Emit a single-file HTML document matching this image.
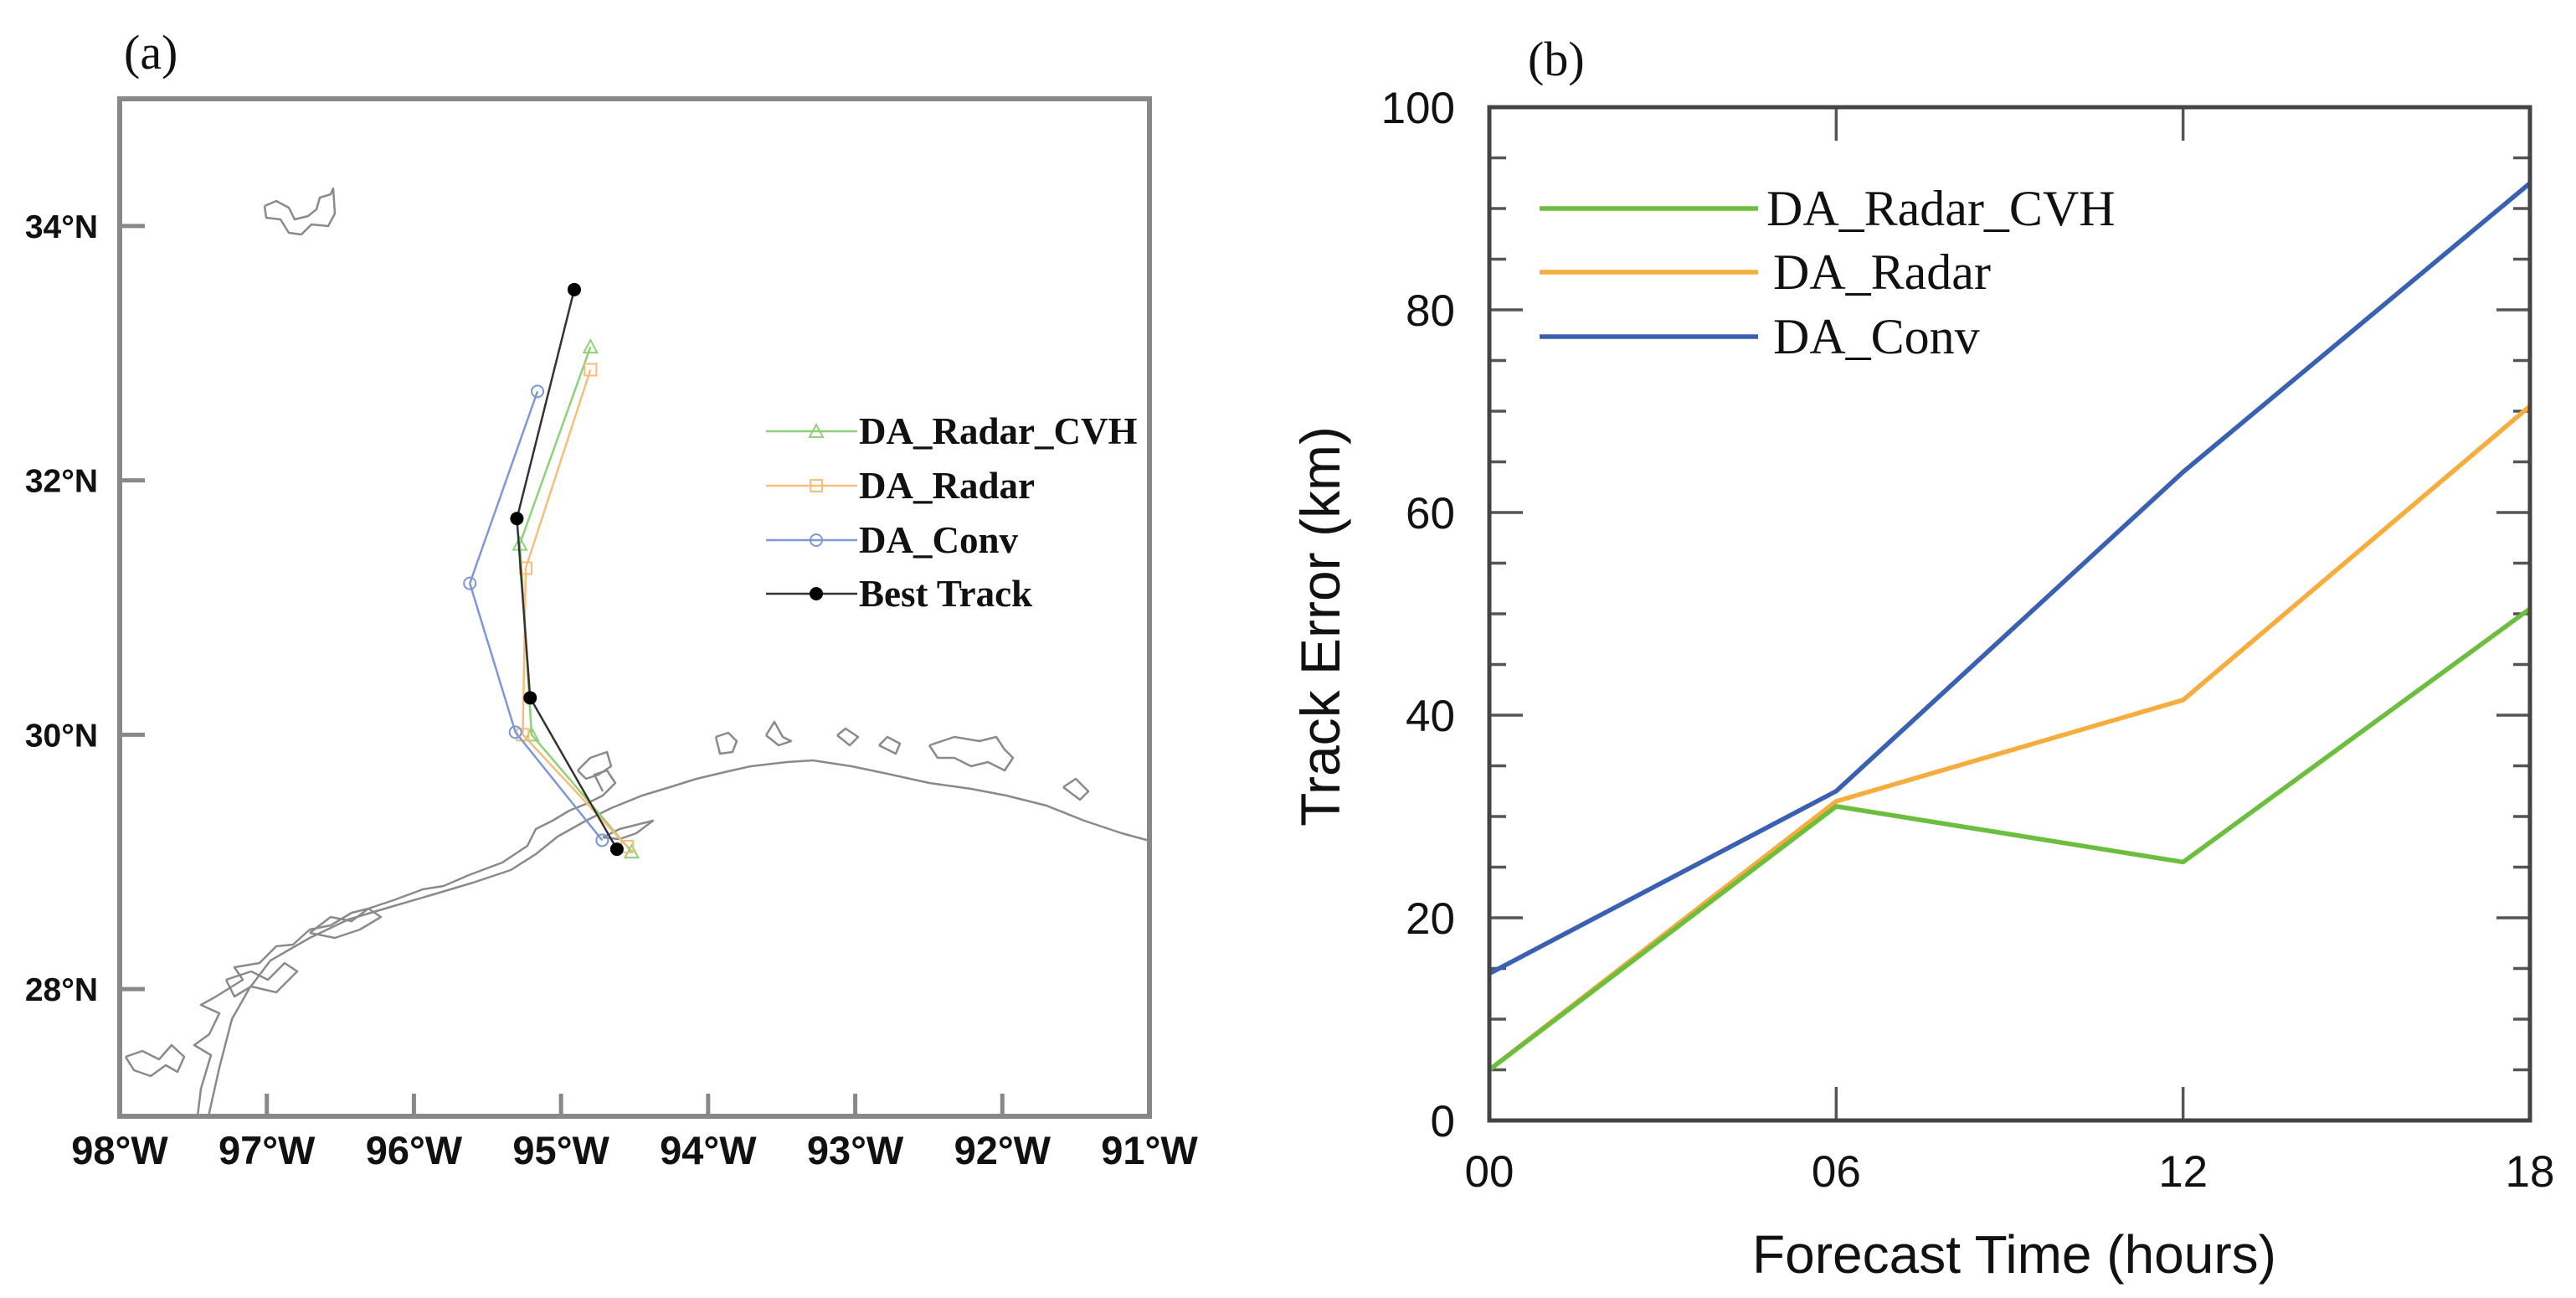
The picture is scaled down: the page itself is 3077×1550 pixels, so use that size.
<!DOCTYPE html>
<html><head><meta charset="utf-8"><title>Track comparison</title>
<style>
html,body{margin:0;padding:0;background:#fff;}
svg{display:block;}
</style></head>
<body>
<svg id="fig" width="3077" height="1550" viewBox="0 0 3077 1550" xmlns="http://www.w3.org/2000/svg">
  <rect x="0" y="0" width="3077" height="1550" fill="#fff"/>
  <!-- Panel a -->
  <g id="panelA">
    <text x="148" y="82" font-family="Liberation Serif, serif" font-size="58" fill="#111">(a)</text>
    <g id="coast" fill="none" stroke="#8a8a8a" stroke-width="2.5" stroke-linejoin="round">
      <polyline points="249,1333 262,1275 277,1217 298,1180 323,1147 370,1120 416,1098 470,1082 518,1068 565,1054 610,1039 640,1020 666,999 700,980 730,965 767,950 800,940 832,930 870,921 897,915 940,910 971,908 1017,915 1060,924 1110,935 1160,942 1202,950 1250,962 1295,980 1340,995 1373,1004"/>
      <polyline points="236,1333 240,1300 252,1260 232,1248 250,1235 262,1210 240,1200 258,1190 290,1170 280,1155 310,1150 330,1130 350,1128 370,1110 395,1105 420,1090 440,1085 470,1075 505,1062 530,1058 560,1045 600,1030 630,1010 640,990 660,980 680,968 700,960 720,950 735,935 725,920 710,925 720,945"/>
      <polyline points="150,1262 170,1255 190,1265 205,1248 220,1262 212,1280 198,1272 180,1285 160,1278 150,1262"/>
      <polyline points="270,1170 300,1160 320,1170 340,1150 355,1160 330,1185 300,1178 280,1190 270,1170"/>
      <polyline points="370,1114 395,1095 420,1100 440,1085 455,1095 430,1110 400,1120 370,1114"/>
      <polyline points="690,920 705,905 725,898 730,915 715,925 700,930 690,920"/>
      <polyline points="720,1000 740,990 760,985 780,980 760,995 740,1002 720,1000"/>
      <polyline points="855,880 870,875 880,885 875,898 860,900 855,880"/>
      <polyline points="915,878 925,862 935,880 945,885 930,890 915,878"/>
      <polyline points="1000,878 1010,870 1025,880 1015,890 1000,878"/>
      <polyline points="1050,890 1060,880 1075,888 1070,900 1050,890"/>
      <polyline points="1110,890 1140,880 1170,885 1190,880 1200,895 1210,905 1200,920 1180,910 1160,915 1140,905 1120,905 1110,890"/>
      <polyline points="1270,940 1285,930 1300,945 1290,955 1270,940"/>
      <polyline points="316,246 330,240 345,248 352,262 368,258 378,250 382,236 395,232 398,225 400,255 392,270 372,268 360,280 345,278 335,262 318,260 316,246"/>
    </g>
    <rect x="143" y="118" width="1230" height="1215" fill="none" stroke="#888" stroke-width="6"/>
    <g id="mapAxes"></g>
    <g id="tracks"></g>
    <g id="legendA"></g>
  </g>
  <!-- Panel b -->
  <g id="panelB">
    <text x="1825" y="90" font-family="Liberation Serif, serif" font-size="58" fill="#111">(b)</text>
    <g id="axesB"></g>
    <g id="linesB"></g>
    <rect x="1779" y="128" width="1243" height="1210" fill="none" stroke="#444" stroke-width="5"/>
    <g id="legendB"></g>
    <text x="2406" y="1520" text-anchor="middle" font-family="Liberation Sans, sans-serif" font-size="64" fill="#111">Forecast Time (hours)</text>
    <text transform="translate(1600,748) rotate(-90)" text-anchor="middle" font-family="Liberation Sans, sans-serif" font-size="66" fill="#111">Track Error (km)</text>
  </g>
</svg>
<script>
// ---------- Panel (a) data ----------
const lonTicks = [-98, -97, -96, -95, -94, -93, -92, -91];
const lonTickLabels = ["98°W","97°W","96°W","95°W","94°W","93°W","92°W","91°W"];
const latTicks = [28, 30, 32, 34];
const latTickLabels = ["28°N","30°N","32°N","34°N"];
const trackNames = ["DA_Radar_CVH","DA_Radar","DA_Conv","Best Track"];
const cvhLon = [-94.52, -95.20, -95.28, -94.80];
const cvhLat = [29.08, 30.00, 31.50, 33.05];
const radarLon = [-94.55, -95.26, -95.24, -94.80];
const radarLat = [29.12, 30.00, 31.31, 32.87];
const convLon = [-94.72, -95.31, -95.62, -95.16];
const convLat = [29.17, 30.02, 31.19, 32.70];
const bestLon = [-94.62, -95.21, -95.30, -94.91];
const bestLat = [29.10, 30.29, 31.70, 33.50];

// ---------- Panel (b) data ----------
const hours = [0, 6, 12, 18];
const hourLabels = ["00","06","12","18"];
const errTicks = [0, 20, 40, 60, 80, 100];
const errTickLabels = ["0","20","40","60","80","100"];
const seriesNames = ["DA_Radar_CVH","DA_Radar","DA_Conv"];
const errCVH = [5, 31, 25.5, 50.5];
const errRadar = [5, 31.5, 41.5, 70.5];
const errConv = [14.5, 32.5, 64, 92.5];

const NS = "http://www.w3.org/2000/svg";
function mk(tag, attrs, parent){
  const e = document.createElementNS(NS, tag);
  for (const k in attrs) e.setAttribute(k, attrs[k]);
  parent.appendChild(e);
  return e;
}

// Map axis functions
const mx0 = 143, mx1 = 1373, my0 = 118, my1 = 1333;
const lonMin = -98, lonMax = -91, latMin = 27, latMax = 35;
function px(lon){ return mx0 + (lon - lonMin) / (lonMax - lonMin) * (mx1 - mx0); }
function py(lat){ return my1 - (lat - latMin) / (latMax - latMin) * (my1 - my0); }

const mapAxes = document.getElementById('mapAxes');
lonTicks.forEach((v, i) => {
  const x = px(v);
  if (i > 0 && i < lonTicks.length - 1) {
    const t = mk('line', {x1:x, y1:my1, x2:x, y2:my1-27, stroke:'#888', 'stroke-width':5}, mapAxes);
    
    
  }
  const lb = mk('text', {x:x, y:1390, 'text-anchor':'middle', 'font-family':'Liberation Sans, sans-serif', 'font-size':47, 'font-weight':'bold', fill:'#111'}, mapAxes);
  lb.textContent = lonTickLabels[i];
  
  
});
latTicks.forEach((v, i) => {
  const y = py(v);
  const t = mk('line', {x1:mx0, y1:y, x2:mx0+30, y2:y, stroke:'#888', 'stroke-width':5}, mapAxes);
  
  
  const lb = mk('text', {x:117, y:y+14, 'text-anchor':'end', 'font-family':'Liberation Sans, sans-serif', 'font-size':39, 'font-weight':'bold', fill:'#111'}, mapAxes);
  lb.textContent = latTickLabels[i];
  
  
});

function marker(g, type, x, y, color){
  let m;
  if (type === 'tri') m = mk('polygon', {points:`${x},${y-8} ${x-8},${y+7} ${x+8},${y+7}`, fill:'none', stroke:color, 'stroke-width':2}, g);
  else if (type === 'sq') m = mk('rect', {x:x-7, y:y-7, width:14, height:14, fill:'none', stroke:color, 'stroke-width':2}, g);
  else if (type === 'circ') m = mk('circle', {cx:x, cy:y, r:7, fill:'none', stroke:color, 'stroke-width':2}, g);
  else m = mk('circle', {cx:x, cy:y, r:8, fill:'#000'}, g);
  return m;
}

const tracks = document.getElementById('tracks');
const trackDefs = [
  {lon:cvhLon, lat:cvhLat, color:'#8fd07a', mk:'tri', w:2.5, name:'track-da-radar-cvh'},
  {lon:radarLon, lat:radarLat, color:'#f7bd7a', mk:'sq', w:2.5, name:'track-da-radar'},
  {lon:convLon, lat:convLat, color:'#7e98d6', mk:'circ', w:2.5, name:'track-da-conv'},
  {lon:bestLon, lat:bestLat, color:'#333', mk:'dot', w:2.5, name:'track-best'}
];
trackDefs.forEach(d => {
  const g = mk('g', {}, tracks);
  
  
  const pts = d.lon.map((v, i) => px(v) + ',' + py(d.lat[i])).join(' ');
  const pl = mk('polyline', {points:pts, fill:'none', stroke:d.color, 'stroke-width':d.w}, g);
  
  
  d.lon.forEach((v, i) => {
    const m = marker(g, d.mk, px(v), py(d.lat[i]), d.color);
    
    
  });
});

const legendA = document.getElementById('legendA');
const legYA = [515, 580, 645, 709];
trackDefs.forEach((d, i) => {
  const g = mk('g', {}, legendA);
  
  
  mk('line', {x1:915, y1:legYA[i], x2:1024, y2:legYA[i], stroke:d.color, 'stroke-width':2.5}, g);
  marker(g, d.mk, 975, legYA[i], d.color);
  const t = mk('text', {x:1026, y:legYA[i]+15, 'font-family':'Liberation Serif, serif', 'font-size':45, 'font-weight':'bold', fill:'#111'}, g);
  t.textContent = trackNames[i];
});

// Panel b axis functions
const bx0 = 1779, bx1 = 3022, by0 = 128, by1 = 1338;
function xs(h){ return bx0 + (h - 0) / 18 * (bx1 - bx0); }
function ys(v){ return by1 - (v - 0) / 100 * (by1 - by0); }

const axesB = document.getElementById('axesB');
for (let v = 5; v < 100; v += 5) {
  const major = v % 20 === 0;
  const L = major ? 40 : 20;
  const y = ys(v);
  const a = mk('line', {x1:bx0, y1:y, x2:bx0+L, y2:y, stroke:'#555', 'stroke-width':3.5}, axesB);
  
  
  const b = mk('line', {x1:bx1, y1:y, x2:bx1-L, y2:y, stroke:'#555', 'stroke-width':3.5}, axesB);
  
  
}
errTicks.forEach((v, i) => {
  const t = mk('text', {x:1738, y:ys(v)+19, 'text-anchor':'end', 'font-family':'Liberation Sans, sans-serif', 'font-size':53, fill:'#111'}, axesB);
  t.textContent = errTickLabels[i];
  
  
});
hours.forEach((h, i) => {
  const x = xs(h);
  if (i > 0 && i < hours.length - 1) {
    const a = mk('line', {x1:x, y1:by1, x2:x, y2:by1-40, stroke:'#555', 'stroke-width':3.5}, axesB);
    
    
    const b = mk('line', {x1:x, y1:by0, x2:x, y2:by0+40, stroke:'#555', 'stroke-width':3.5}, axesB);
    
    
  }
  const t = mk('text', {x:x, y:1417, 'text-anchor':'middle', 'font-family':'Liberation Sans, sans-serif', 'font-size':53, fill:'#111'}, axesB);
  t.textContent = hourLabels[i];
  
  
});

const linesB = document.getElementById('linesB');
const seriesDefs = [
  {vals:errConv, color:'#3a60b4', name:'line-da-conv'},
  {vals:errRadar, color:'#f7ac3e', name:'line-da-radar'},
  {vals:errCVH, color:'#6cbf3e', name:'line-da-radar-cvh'}
];
seriesDefs.forEach(d => {
  const pts = d.vals.map((v, i) => xs(hours[i]) + ',' + ys(v)).join(' ');
  const pl = mk('polyline', {points:pts, fill:'none', stroke:d.color, 'stroke-width':5.5, 'stroke-linejoin':'round'}, linesB);
  
  
});

const legendB = document.getElementById('legendB');
const legColorsB = ['#6cbf3e', '#f7ac3e', '#3a60b4'];
const legYB = [249, 325, 402];
seriesNames.forEach((n, i) => {
  const g = mk('g', {}, legendB);
  
  
  mk('line', {x1:1839, y1:legYB[i], x2:2100, y2:legYB[i], stroke:legColorsB[i], 'stroke-width':5.5}, g);
  const t = mk('text', {x:i === 0 ? 2110 : 2118, y:legYB[i]+20, 'font-family':'Liberation Serif, serif', 'font-size':60, fill:'#111'}, g);
  t.textContent = n;
});
</script>
</body></html>
